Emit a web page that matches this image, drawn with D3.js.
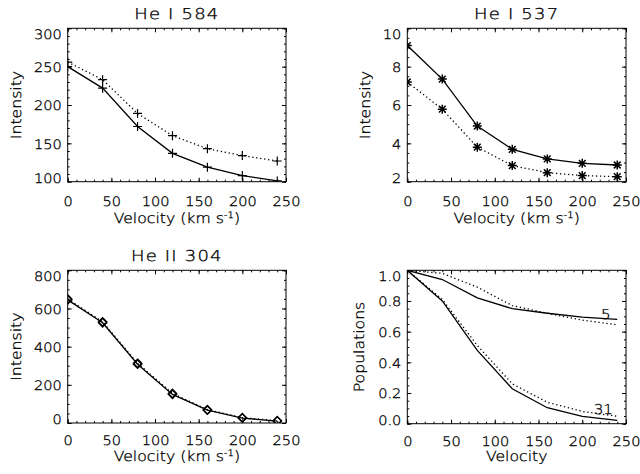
<!DOCTYPE html>
<html><head><meta charset="utf-8">
<script src="https://cdn.jsdelivr.net/npm/d3@7"></script>
<style>body{margin:0;background:#fff} svg{display:block}
text{font-weight:200; fill:#000; stroke:#000; stroke-width:0.3px; text-rendering:geometricPrecision}</style>
</head><body>
<svg id="c" width="640" height="474"></svg>
<script>
// ---- data ----
const velocity = [0, 40, 80, 120, 160, 200, 240];
const he584Solid  = [250, 222, 172, 137, 119, 108, 101];
const he584Dotted = [256, 233, 189, 160, 143, 134, 127];
const he537Solid  = [9.1, 7.35, 4.9, 3.69, 3.19, 2.96, 2.87];
const he537Dotted = [7.2, 5.78, 3.8, 2.84, 2.47, 2.32, 2.26];
const he304Solid  = [645, 525, 308, 150, 67, 26, 10];
const he304Dotted = [650, 530, 313, 155, 70, 28, 12];
const pop5Solid   = [1.0, 0.94, 0.82, 0.75, 0.72, 0.695, 0.68];
const pop5Dotted  = [1.0, 0.98, 0.89, 0.77, 0.72, 0.675, 0.645];
const pop31Solid  = [1.0, 0.80, 0.478, 0.228, 0.104, 0.048, 0.022];
const pop31Dotted = [1.0, 0.81, 0.51, 0.26, 0.14, 0.08, 0.048];
const xTicks = [0, 50, 100, 150, 200, 250];
const xMinorStep = 10;
const yTicks584 = [100, 150, 200, 250, 300];
const yTicks537 = [2, 4, 6, 8, 10];
const yTicks304 = [0, 200, 400, 600, 800];
const yTicksPop = [0, 0.2, 0.4, 0.6, 0.8, 1.0];
const titles = ["He I 584", "He I 537", "He II 304", ""];
const levelLabels = [{text: "5", v: 227, p: 0.713}, {text: "31", v: 224, p: 0.098}];

// ---- symbols ----
const symPlus = {draw(c, r) { c.moveTo(-r, 0); c.lineTo(r, 0); c.moveTo(0, -r); c.lineTo(0, r); }};
const symAst = {draw(c, r) {
  c.moveTo(-r, 0); c.lineTo(r, 0); c.moveTo(0, -r); c.lineTo(0, r);
  const q = r * 0.75; c.moveTo(-q, -q); c.lineTo(q, q); c.moveTo(-q, q); c.lineTo(q, -q); }};
const symDiamond = {draw(c, r) { c.moveTo(0, -r); c.lineTo(r, 0); c.lineTo(0, r); c.lineTo(-r, 0); c.closePath(); }};

const FONT = "'DejaVu Sans', 'DejaVu Sans Light', sans-serif";
const SX = 1.12;
const svg = d3.select("#c");

const panels = [
  {x0: 67.7, x1: 286, y0: 28.3, y1: 181.7, dom: [100, 300], yt: yTicks584, ymin: 10, fmt: d3.format("d"),
   ylab: "Intensity", ylabOff: 52, units: true, xlabOff: 20, xtitOff: 36, title: titles[0],
   series: [{v: he584Solid, dash: false, sym: symPlus, r: 4.5, sw: 1.2}, {v: he584Dotted, dash: true, sym: symPlus, r: 4.5, sw: 1.2}]},
  {x0: 407.3, x1: 626, y0: 28.3, y1: 181.7, dom: [2, 10], yt: yTicks537, ymin: 0.5, fmt: d3.format("d"),
   ylab: "Intensity", ylabOff: 42, units: true, xlabOff: 20, xtitOff: 36, title: titles[1],
   series: [{v: he537Solid, dash: false, sym: symAst, r: 4.5, sw: 1.5}, {v: he537Dotted, dash: true, sym: symAst, r: 4.5, sw: 1.5}]},
  {x0: 67.7, x1: 286, y0: 270.3, y1: 423, dom: [0, 800], yt: yTicks304, ymin: 50, fmt: d3.format("d"),
   ylab: "Intensity", ylabOff: 52, units: true, xlabOff: 17.5, xtitOff: 32.5, title: titles[2],
   series: [{v: he304Solid, dash: false, sym: symDiamond, r: 4.2, sw: 1.3}, {v: he304Dotted, dash: true, sym: symDiamond, r: 4.2, sw: 1.3}]},
  {x0: 407.3, x1: 626, y0: 270.3, y1: 423.7, dom: [0, 1], yt: yTicksPop, ymin: 0.05, fmt: d3.format(".1f"),
   ylab: "Populations", ylabOff: 48, units: false, xlabOff: 17.5, xtitOff: 32, title: titles[3],
   series: [{v: pop5Solid, dash: false}, {v: pop5Dotted, dash: true}, {v: pop31Solid, dash: false}, {v: pop31Dotted, dash: true}],
   labels: levelLabels}
];

function styleAxis(g) {
  g.attr("font-family", FONT).attr("font-size", 13).select(".domain").remove();
  g.selectAll("line").attr("stroke", "#000").attr("stroke-width", 1);
}

panels.forEach((p, pi) => {
  const g = svg.append("g");
  const x = d3.scaleLinear().domain([0, 250]).range([p.x0, p.x1]);
  const y = d3.scaleLinear().domain(p.dom).range([p.y1, p.y0]);
  const xMinor = d3.range(0, 250 + 1e-9, xMinorStep);
  const yMinor = d3.range(p.dom[0], p.dom[1] + 1e-9, p.ymin);

  [[d3.axisBottom(x), p.y1], [d3.axisTop(x), p.y0]].forEach(([ax, pos]) => {
    g.append("g").attr("transform", `translate(0,${pos})`)
      .call(ax.tickValues(xMinor).tickSize(-2).tickFormat("")).call(styleAxis);
  });
  [[d3.axisLeft(y), p.x0], [d3.axisRight(y), p.x1]].forEach(([ax, pos]) => {
    g.append("g").attr("transform", `translate(${pos},0)`)
      .call(ax.tickValues(yMinor).tickSize(-2).tickFormat("")).call(styleAxis);
  });
  g.append("g").attr("transform", `translate(0,${p.y0})`)
    .call(d3.axisTop(x).tickValues(xTicks).tickSize(-4).tickFormat("")).call(styleAxis);
  g.append("g").attr("transform", `translate(${p.x1},0)`)
    .call(d3.axisRight(y).tickValues(p.yt).tickSize(-4).tickFormat("")).call(styleAxis);
  const xb = g.append("g").attr("transform", `translate(0,${p.y1})`)
    .call(d3.axisBottom(x).tickValues(xTicks).tickSize(-4).tickFormat(d3.format("d"))).call(styleAxis);
  xb.selectAll("text").attr("fill", "#000").attr("y", 0).attr("dy", "0.36em")
    .attr("transform", `translate(0,${p.xlabOff}) scale(${SX},1)`);
  const yl = g.append("g").attr("transform", `translate(${p.x0},0)`)
    .call(d3.axisLeft(y).tickValues(p.yt).tickSize(-4).tickFormat(p.fmt)).call(styleAxis);
  yl.selectAll("text").attr("fill", "#000").attr("x", 0).attr("dy", "0.36em")
    .attr("transform", d => {
      const py = y(d);
      let shift = 0;
      if (py - p.y0 < 6) shift = p.y0 + 6 - py;
      if (p.y1 - py < 4) shift = p.y1 - 4 - py;
      return `translate(-6,${shift}) scale(${SX},1)`;
    });

  g.append("rect").attr("x", p.x0).attr("y", p.y0).attr("width", p.x1 - p.x0).attr("height", p.y1 - p.y0)
    .attr("fill", "none").attr("stroke", "#000").attr("stroke-width", 1);

  const cid = "clip" + pi;
  svg.append("clipPath").attr("id", cid).append("rect")
    .attr("x", p.x0).attr("y", p.y0).attr("width", p.x1 - p.x0).attr("height", p.y1 - p.y0);
  const plot = g.append("g").attr("clip-path", `url(#${cid})`);

  const line = d3.line().x((d, i) => x(velocity[i])).y(d => y(d));
  p.series.forEach(s => {
    plot.append("path").attr("d", line(s.v)).attr("fill", "none").attr("stroke", "#000")
      .attr("stroke-width", 1.3)
      .attr("stroke-dasharray", s.dash ? "1.3,2.7" : null);
    if (s.sym) {
      const sym = d3.symbol().type(s.sym).size(s.r);
      plot.selectAll(null).data(s.v).enter().append("path")
        .attr("transform", (d, i) => `translate(${x(velocity[i])},${y(d)})`)
        .attr("d", sym).attr("fill", "none").attr("stroke", "#000").attr("stroke-width", s.sw);
    }
  });

  if (p.labels) {
    p.labels.forEach(l => {
      g.append("text").attr("font-family", FONT).attr("font-size", 13.5).attr("text-anchor", "middle")
        .attr("dy", "0.36em")
        .attr("transform", `translate(${x(l.v)},${y(l.p)}) scale(${SX},1)`).text(l.text);
    });
  }

  const cx = (p.x0 + p.x1) / 2;
  if (p.title) {
    g.append("text").attr("font-family", FONT).attr("font-size", 15).attr("text-anchor", "middle")
      .attr("letter-spacing", 1).attr("dy", "0.36em")
      .attr("transform", `translate(${cx},${p.y0 - 14.5}) scale(1.2,1)`).text(p.title);
  }
  const xt = g.append("text").attr("font-family", FONT).attr("font-size", 14).attr("text-anchor", "middle")
    .attr("dy", "0.36em").attr("transform", `translate(${cx},${p.y1 + p.xtitOff}) scale(${SX},1)`);
  if (p.units) {
    xt.append("tspan").text("Velocity (km s");
    xt.append("tspan").attr("font-size", 9).attr("dy", "-0.5em").text("-1");
    xt.append("tspan").attr("dy", "0.35em").text(")");
  } else {
    xt.text("Velocity");
  }
  g.append("text").attr("font-family", FONT).attr("font-size", 14).attr("text-anchor", "middle")
    .attr("dy", "0.36em")
    .attr("transform", `translate(${p.x0 - p.ylabOff},${(p.y0 + p.y1) / 2}) rotate(-90) scale(${SX},1)`)
    .text(p.ylab);
});
</script>
</body></html>
